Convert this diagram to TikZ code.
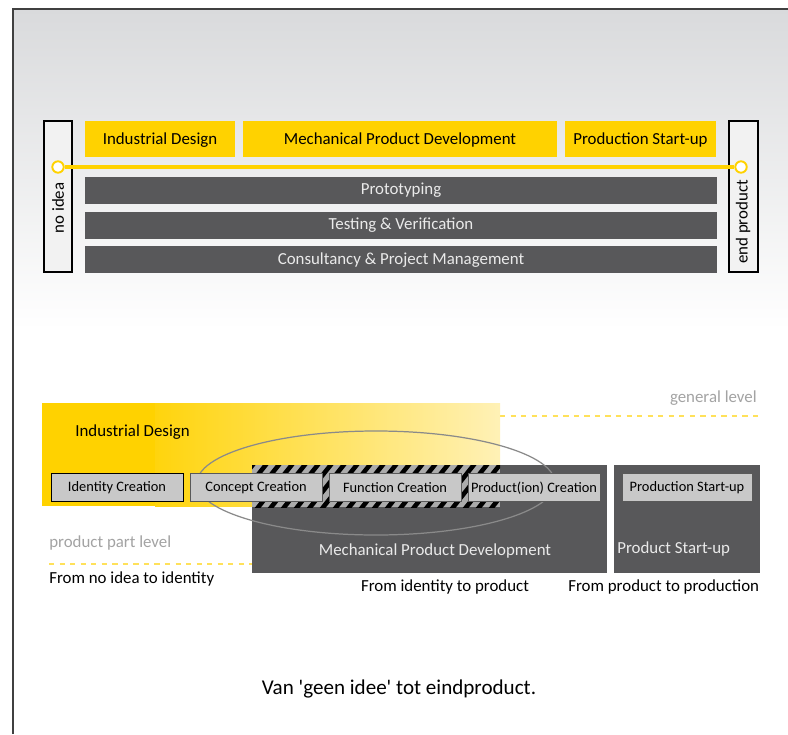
\documentclass[tikz,border=0pt]{standalone}
\usepackage{fontspec}
\setmainfont{Carlito}
\usepackage{xcolor}
\usepackage{tikz}
\usetikzlibrary{positioning,calc}

\definecolor{ygold}{HTML}{FFD200}
\definecolor{ypale}{HTML}{FFF1B6}
\definecolor{ydash}{HTML}{FFE15A}
\definecolor{dgray}{HTML}{58585A}
\definecolor{btngray}{HTML}{C8C8C8}
\definecolor{hatchgray}{HTML}{ABABAB}
\definecolor{lvlgray}{HTML}{A3A3A3}
\definecolor{ellgray}{HTML}{8A8A8A}
\definecolor{bgtop}{HTML}{D9DADC}
\definecolor{lighttext}{HTML}{EAEAEA}

\begin{document}
\begin{tikzpicture}[x=0.02cm,y=-0.02cm,
		lbl/.style={font=\fontsize{9.6}{11}\selectfont, inner sep=0},
		lightlbl/.style={lbl, text=lighttext},
		btnlbl/.style={font=\fontsize{8.2}{10}\selectfont, inner sep=0},
		btn/.style={fill=btngray, draw=gray!70!black, line width=0.45pt},
		dot/.style={circle, draw=ygold, fill=white, line width=1.1pt, minimum size=6.5pt, inner sep=0}]
				\useasboundingbox (0,0) rectangle (788,734);
				\fill [white] (0,0) rectangle (788,734);
				\shade [top color=bgtop, bottom color=white] (13,9) rectangle (788,330);
				\draw [black!75, line width=0.8pt] (13,734) -- (13,9) -- (788,9);
				
				% % % % % % % % % % % % % % % % % % % % % % % % % %
				
				\draw [black, line width=0.6pt, fill=white!95!black] (44,121) rectangle (72,272);
				\draw [black, line width=0.6pt, fill=white!95!black] (729,121) rectangle (758,272);
				\node [lbl, rotate=90] (noidea) at (58,208) {no idea};
				\node [lbl, rotate=90] (endproduct) at (743,222) {end product};
				
				\fill [ygold] (85,121) rectangle (235,157);
				\fill [ygold] (243,121) rectangle (557,157);
				\fill [ygold] (565,121) rectangle (716,157);
				\node [lbl] (topid) at (160,140) {Industrial Design};
				\node [lbl] (topmpd) at (400,140) {Mechanical Product Development};
				\node [lbl] (topps) at (640.5,140) {Production Start-up};
				
				\node [dot] (start) at (58,167) {};
				\node [dot] (finish) at (741,167) {};
				\draw [ygold, line width=2.2pt] (start) -- (finish);
				
				\fill [dgray] (85,177) rectangle (717,204);
				\fill [dgray] (85,212) rectangle (717,239);
				\fill [dgray] (85,246) rectangle (717,273);
				\node [lightlbl] (proto) at (401,190) {Prototyping};
				\node [lightlbl] (testing) at (401,225.5) {Testing \& Verification};
				\node [lightlbl] (consult) at (401,260) {Consultancy \& Project Management};
				
				% % % % % % % % % % % % % % % % % % % % % % % % % %
				
				\draw [ydash, dashed, line width=0.6pt] (500,416) -- (762,416);
				\draw [ydash, dashed, line width=0.6pt] (49,564) -- (252,564);
				
				\fill [ygold] (42,403) rectangle (156,506);
				\shade [left color=ygold!95!white, right color=ypale] (155,403) rectangle (500,506);
				
				\fill [dgray] (252,465) rectangle (607,573);
				\fill [dgray] (614,465) rectangle (760,573);
				
				\begin{scope}
					\clip (252,465) rectangle (500,507);
					\fill [hatchgray] (252,465) rectangle (500,507);
					\foreach \x in {200,213,...,520}
						\draw [black, line width=2.6pt] (\x,515) -- (\x+46,457);
				\end{scope}
				
				\draw [ellgray, line width=0.7pt] (376,483) ellipse [x radius=179, y radius=52];
				
				\draw [btn, draw=black] (51,473) rectangle (183,501);
				\draw [btn] (190,473) rectangle (322,501);
				\draw [btn] (329,473) rectangle (461,501);
				\draw [btn] (468,473) rectangle (600,501);
				\draw [btn] (622,473) rectangle (752,501);
				\node [btnlbl] (identity) at (117,488) {Identity Creation};
				\node [btnlbl] (concept) at (256,488) {Concept Creation};
				\node [btnlbl] (function) at (395,488) {Function Creation};
				\node [btnlbl] (production) at (534,488) {Product(ion) Creation};
				\node [btnlbl] (startup) at (687,488) {Production Start-up};
				
				\node [lbl, anchor=west] (botid) at (75,432) {Industrial Design};
				\node [lbl, anchor=east, text=lvlgray] (general) at (757,398) {general level};
				\node [lbl, anchor=west, text=lvlgray] (partlevel) at (49,543) {product part level};
				\node [lightlbl] (botmpd) at (435,551) {Mechanical Product Development};
				\node [lightlbl, anchor=west] (botps) at (617,549) {Product Start-up};
				
				\node [lbl, anchor=west] (fromnoidea) at (49,579) {From no idea to identity};
				\node [lbl] (fromidentity) at (445,587) {From identity to product};
				\node [lbl, anchor=west] (fromproduct) at (568,587) {From product to production};
				
				\node [font=\fontsize{12}{14}\selectfont, inner sep=0] (caption) at (399,689) {Van \textquotesingle geen idee\textquotesingle\ tot eindproduct.};
\end{tikzpicture}
\end{document}
